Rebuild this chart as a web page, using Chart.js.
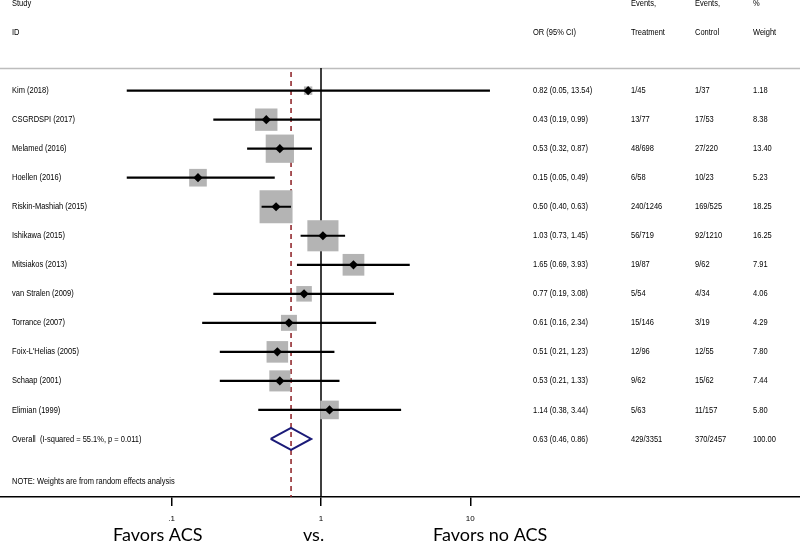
<!DOCTYPE html>
<html>
<head>
<meta charset="utf-8">
<title>Forest plot</title>
<script src="https://cdn.jsdelivr.net/npm/chart.js@4.4.1/dist/chart.umd.min.js"></script>
<style>
  html, body { margin: 0; padding: 0; background: #fff; }
</style>
</head>
<body>
<canvas id="forest" width="800" height="541"></canvas>
<script>
const studies = ["Kim (2018)", "CSGRDSPI (2017)", "Melamed (2016)", "Hoellen (2016)",
  "Riskin-Mashiah (2015)", "Ishikawa (2015)", "Mitsiakos (2013)", "van Stralen (2009)",
  "Torrance (2007)", "Foix-L'Helias (2005)", "Schaap (2001)", "Elimian (1999)"];
const oddsRatios = [0.82, 0.43, 0.53, 0.15, 0.50, 1.03, 1.65, 0.77, 0.61, 0.51, 0.53, 1.14];
const ciLow = [0.05, 0.19, 0.32, 0.05, 0.40, 0.73, 0.69, 0.19, 0.16, 0.21, 0.21, 0.38];
const ciHigh = [13.54, 0.99, 0.87, 0.49, 0.63, 1.45, 3.93, 3.08, 2.34, 1.23, 1.33, 3.44];
const eventsTreatment = ["1/45", "13/77", "48/698", "6/58", "240/1246", "56/719", "19/87",
  "5/54", "15/146", "12/96", "9/62", "5/63"];
const eventsControl = ["1/37", "17/53", "27/220", "10/23", "169/525", "92/1210", "9/62",
  "4/34", "3/19", "12/55", "15/62", "11/157"];
const weights = [1.18, 8.38, 13.40, 5.23, 18.25, 16.25, 7.91, 4.06, 4.29, 7.80, 7.44, 5.80];

const overallLabel = "Overall  (I-squared = 55.1%, p = 0.011)";
const overallOR = 0.63;
const overallLow = 0.46;
const overallHigh = 0.86;
const overallTreatment = "429/3351";
const overallControl = "370/2457";
const overallWeight = "100.00";
const note = "NOTE: Weights are from random effects analysis";

const xTicks = [0.1, 1, 10];
const xTickLabels = [".1", "1", "10"];

const smallFont = '"Liberation Sans", Arial, sans-serif';
const squeeze = 0.8; // the table text is a narrow face
const overallRow = studies.length;

// CI segments in one line dataset, broken by NaN points
const ciPoints = [];
studies.forEach((s, i) => {
  ciPoints.push({ x: ciLow[i], y: i }, { x: ciHigh[i], y: i }, { x: NaN, y: NaN });
});

const diamondHalf = 0.38;
const diamondPoints = [
  { x: overallLow, y: overallRow },
  { x: overallOR, y: overallRow - diamondHalf },
  { x: overallHigh, y: overallRow },
  { x: overallOR, y: overallRow + diamondHalf },
  { x: overallLow, y: overallRow }
];

const fmt = (or, lo, hi) => `${or.toFixed(2)} (${lo.toFixed(2)}, ${hi.toFixed(2)})`;

function narrowText(ctx, txt, x, y) {
  ctx.save();
  ctx.translate(x, y);
  ctx.scale(squeeze, 1);
  ctx.fillText(txt, 0, 0);
  ctx.restore();
}

const forestText = {
  id: 'forestText',
  beforeDatasetsDraw(chart) {
    const ctx = chart.ctx;
    const top = chart.chartArea.top;
    ctx.save();
    ctx.strokeStyle = '#bdbdbd';
    ctx.lineWidth = 1.5;
    ctx.beginPath();
    ctx.moveTo(0, top + 0.5);
    ctx.lineTo(chart.width, top + 0.5);
    ctx.stroke();
    ctx.restore();
  },
  afterDraw(chart) {
    const ctx = chart.ctx;
    const y = chart.scales.y;
    const col = { study: 12, or: 533, trt: 631, ctl: 695, wt: 753 };
    ctx.save();
    ctx.fillStyle = '#000';
    ctx.textBaseline = 'middle';
    ctx.textAlign = 'left';
    ctx.font = `9.4px ${smallFont}`;

    const h1 = y.getPixelForValue(-3), h2 = y.getPixelForValue(-2);
    narrowText(ctx, "Study", col.study, h1);
    narrowText(ctx, "ID", col.study, h2);
    narrowText(ctx, "OR (95% CI)", col.or, h2);
    narrowText(ctx, "Events,", col.trt, h1);
    narrowText(ctx, "Treatment", col.trt, h2);
    narrowText(ctx, "Events,", col.ctl, h1);
    narrowText(ctx, "Control", col.ctl, h2);
    narrowText(ctx, "%", col.wt, h1);
    narrowText(ctx, "Weight", col.wt, h2);

    studies.forEach((s, i) => {
      const py = y.getPixelForValue(i);
      narrowText(ctx, s, col.study, py);
      narrowText(ctx, fmt(oddsRatios[i], ciLow[i], ciHigh[i]), col.or, py);
      narrowText(ctx, eventsTreatment[i], col.trt, py);
      narrowText(ctx, eventsControl[i], col.ctl, py);
      narrowText(ctx, weights[i].toFixed(2), col.wt, py);
    });

    const oy = y.getPixelForValue(overallRow);
    narrowText(ctx, overallLabel, col.study, oy);
    narrowText(ctx, fmt(overallOR, overallLow, overallHigh), col.or, oy);
    narrowText(ctx, overallTreatment, col.trt, oy);
    narrowText(ctx, overallControl, col.ctl, oy);
    narrowText(ctx, overallWeight, col.wt, oy);

    narrowText(ctx, note, col.study, y.getPixelForValue(overallRow + 1.48));

    // labels under the axis
    ctx.font = '18px Lato, "Open Sans", sans-serif';
    ctx.textBaseline = 'alphabetic';
    ctx.fillText("Favors ACS", 113, 541);
    ctx.fillText("vs.", 303, 541);
    ctx.fillText("Favors no ACS", 433, 541);
    ctx.restore();
  }
};

new Chart(document.getElementById('forest'), {
  type: 'scatter',
  data: {
    datasets: [
      {
        // point estimates (first dataset is drawn on top)
        data: oddsRatios.map((v, i) => ({ x: v, y: i })),
        pointStyle: 'rectRot',
        pointRadius: 4.6,
        backgroundColor: '#000',
        borderColor: '#000',
        borderWidth: 0
      },
      {
        data: diamondPoints,
        showLine: true,
        pointRadius: 0,
        borderColor: '#1b1b78',
        borderWidth: 2,
        fill: false
      },
      {
        data: ciPoints,
        showLine: true,
        spanGaps: false,
        pointRadius: 0,
        borderColor: '#000',
        borderWidth: 2.2
      },
      {
        // weight boxes, area proportional to weight
        data: oddsRatios.map((v, i) => ({ x: v, y: i })),
        pointStyle: 'rect',
        pointRadius: weights.map(w => 7.72 * Math.sqrt(w) / Math.SQRT2),
        backgroundColor: '#b4b4b4',
        borderWidth: 0
      },
      {
        data: [{ x: overallOR, y: -0.64 }, { x: overallOR, y: 14 }],
        showLine: true,
        pointRadius: 0,
        borderColor: '#8b1c22',
        borderWidth: 1.5,
        borderDash: [5, 4]
      },
      {
        data: [{ x: 1, y: -0.78 }, { x: 1, y: 14 }],
        showLine: true,
        pointRadius: 0,
        borderColor: '#000',
        borderWidth: 1.5
      }
    ]
  },
  options: {
    responsive: false,
    animation: false,
    devicePixelRatio: 1,
    layout: { autoPadding: false, padding: { top: 68, left: 0, right: 0, bottom: 0 } },
    plugins: { legend: { display: false }, tooltip: { enabled: false } },
    scales: {
      x: {
        type: 'logarithmic',
        min: 0.00708,
        max: 1615,
        afterBuildTicks: scale => { scale.ticks = xTicks.map(v => ({ value: v })); },
        afterFit: scale => { scale.height = 44; },
        grid: { drawOnChartArea: false, drawTicks: true, tickLength: 9, color: '#000', lineWidth: 1.5 },
        border: { display: true, color: '#000', width: 1.5 },
        ticks: {
          autoSkip: false,
          maxRotation: 0,
          padding: 8,
          color: '#000',
          font: { family: smallFont, size: 8 },
          callback: (value, index) => xTickLabels[index]
        }
      },
      y: {
        type: 'linear',
        display: false,
        reverse: true,
        min: -0.78,
        max: 14
      }
    }
  },
  plugins: [forestText]
});
</script>
</body>
</html>
